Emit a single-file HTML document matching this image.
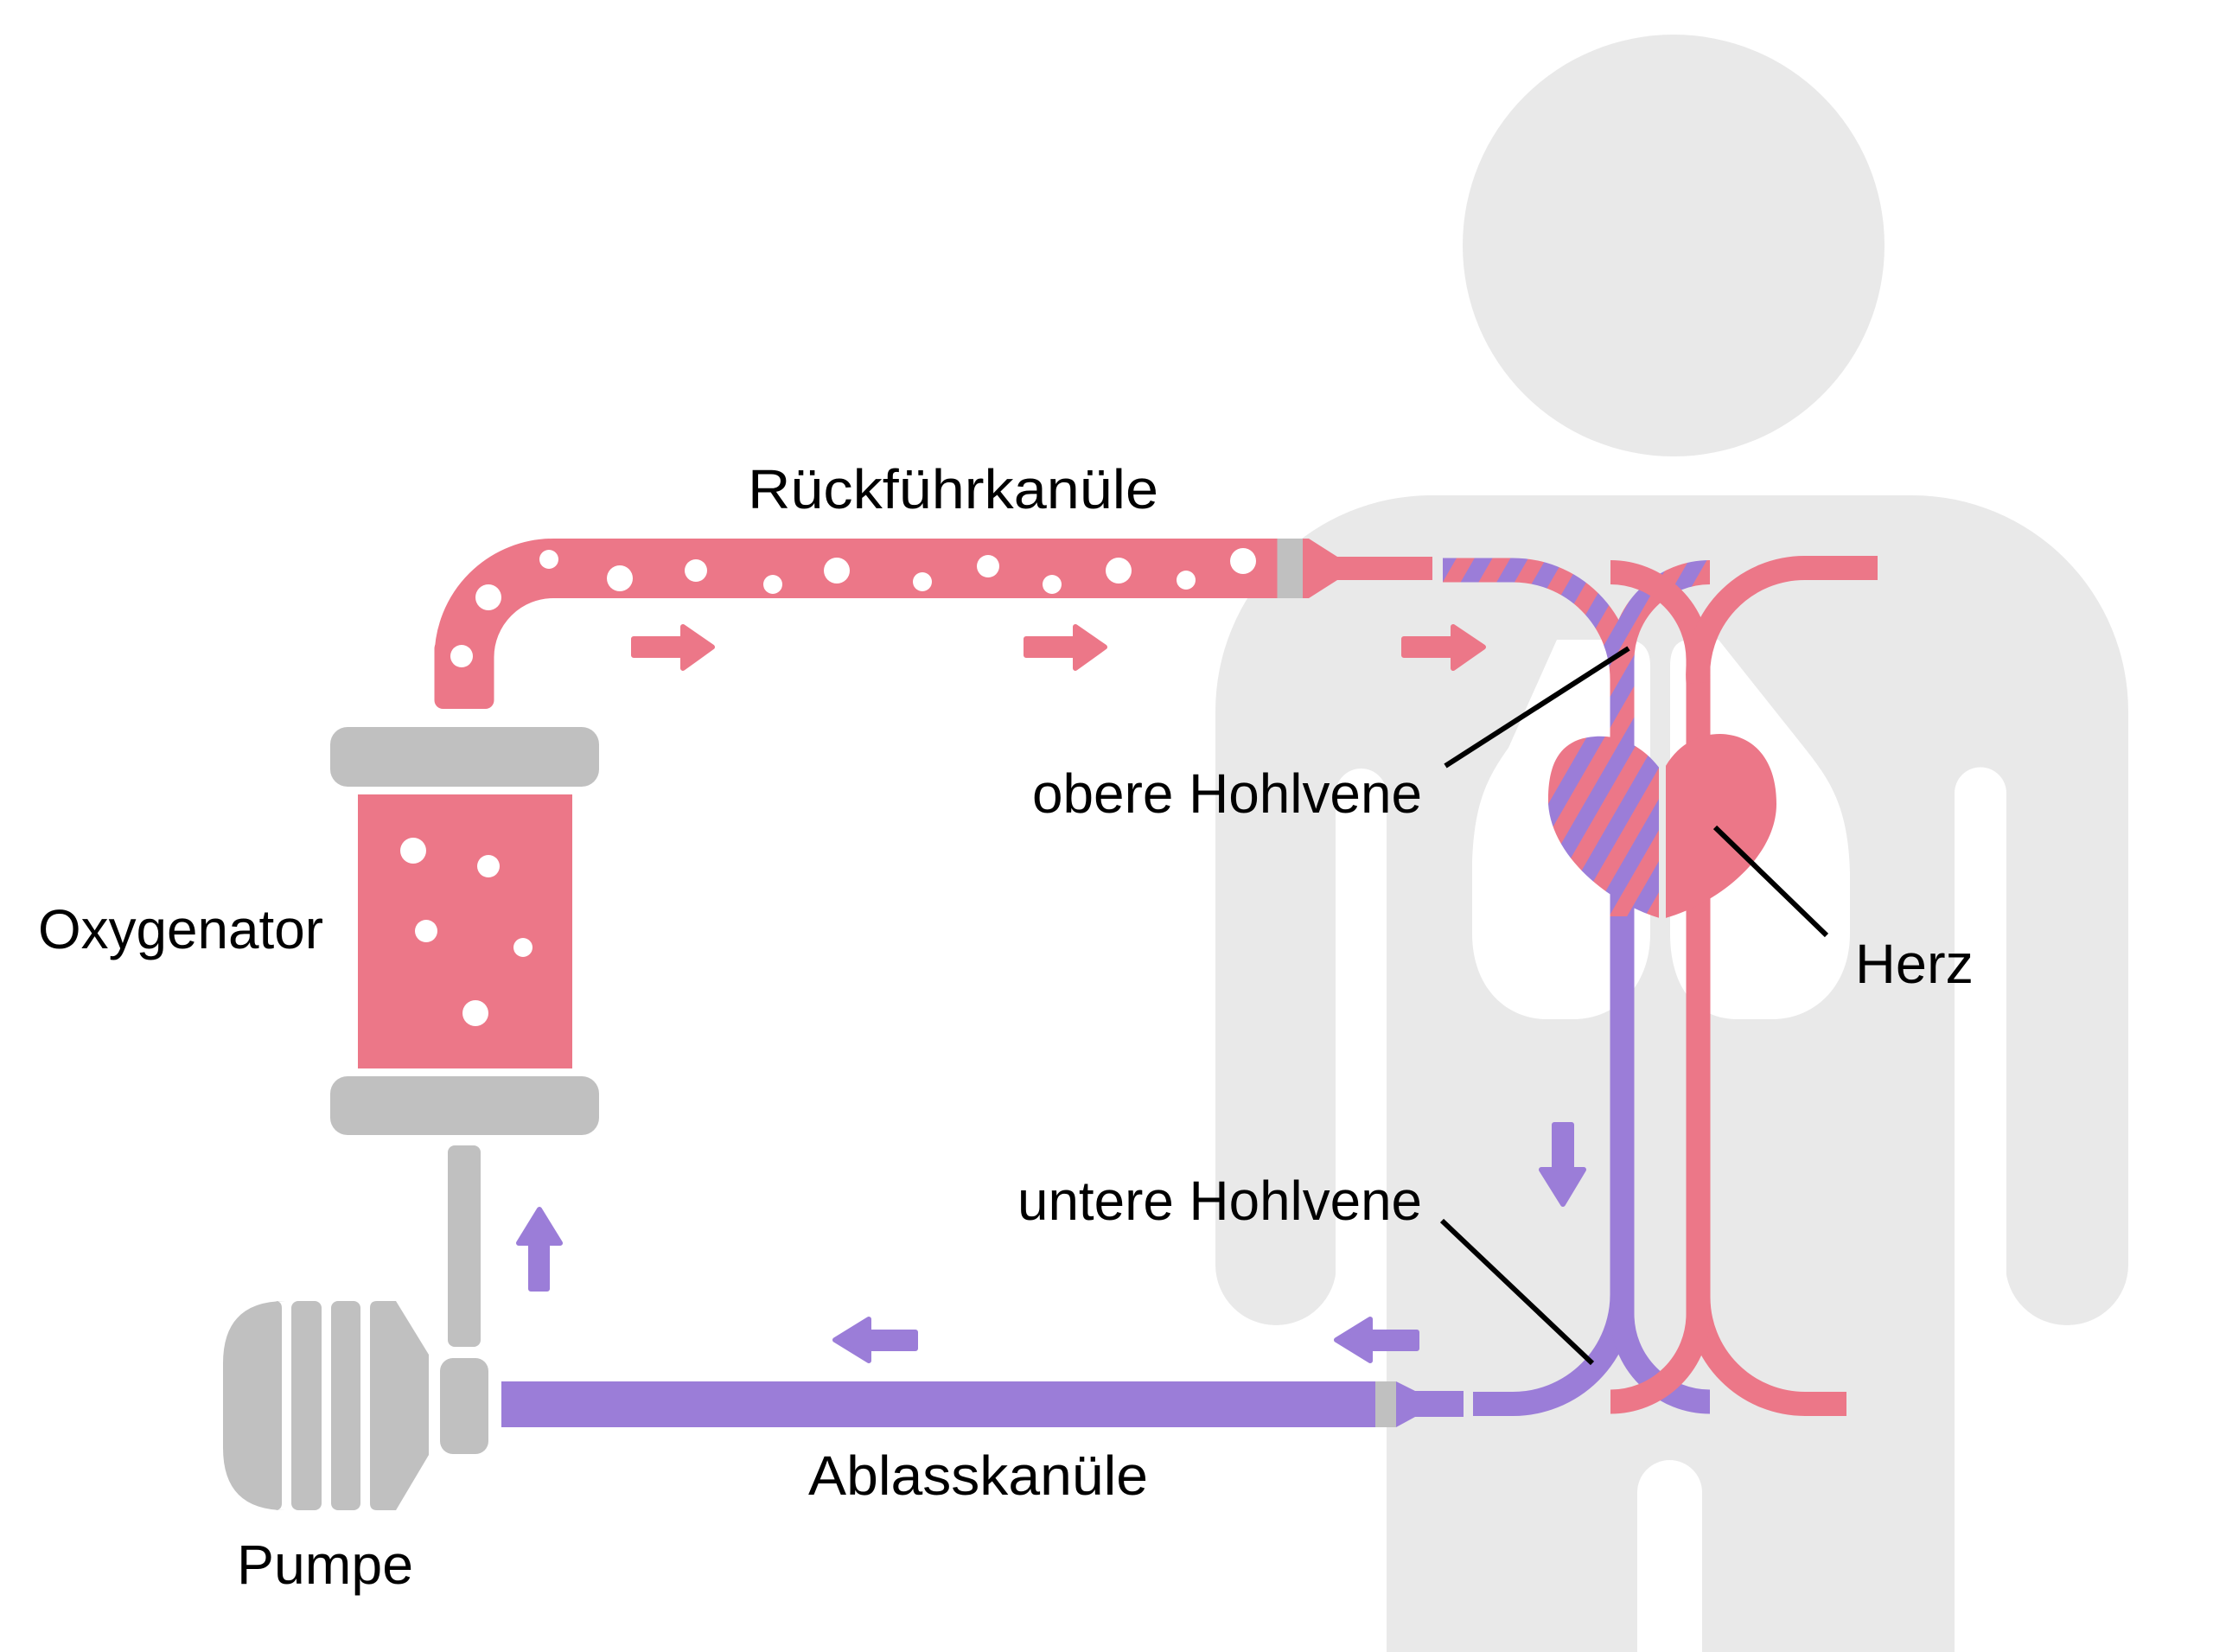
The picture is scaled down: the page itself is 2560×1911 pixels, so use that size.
<!DOCTYPE html>
<html><head><meta charset="utf-8"><style>
html,body{margin:0;padding:0;background:#fff;width:2560px;height:1911px;overflow:hidden;}
svg{display:block;}
text{font-family:"Liberation Sans",sans-serif;fill:#000;}
</style></head><body>
<svg width="2560" height="1911" viewBox="0 0 2560 1911" xmlns="http://www.w3.org/2000/svg">
<defs>
<pattern id="st" patternUnits="userSpaceOnUse" width="36" height="36" patternTransform="rotate(30)">
<rect x="0" y="0" width="36" height="36" fill="#ec7788"/>
<rect x="0" y="0" width="18" height="36" fill="#9b7dd8"/>
</pattern>
<clipPath id="hl"><rect x="1700" y="800" width="219" height="320"/></clipPath>
<clipPath id="hr"><rect x="1927" y="800" width="200" height="320"/></clipPath>
<clipPath id="upper"><rect x="1600" y="600" width="600" height="460"/></clipPath>
</defs>
<!-- body -->
<circle cx="1936" cy="284" r="244" fill="#e9e9e9"/>
<path d="M1406,823 A250,250 0 0 1 1656,573 H2212 A250,250 0 0 1 2462,823 V1463 A71,70 0 0 1 2320,1463 V1911 H1546 V1463 A70,70 0 0 1 1406,1463 Z" fill="#e9e9e9"/>
<path d="M1545,1911 V918.5 A29.5,29.5 0 0 1 1604,918.5 V1911 Z" fill="#fff"/>
<path d="M2261,1911 V917.5 A29.5,29.5 0 0 1 2321,917.5 V1911 Z" fill="#fff"/>
<path d="M1894,1911 V1726.5 A37.5,37.5 0 0 1 1969,1726.5 V1911 Z" fill="#fff"/>

<!-- lungs -->
<path d="M1801,740 L1880,740 Q1909,740 1909,770 L1909,1080 C1909,1140 1870,1179 1820,1179 L1790,1179 C1740,1179 1703,1140 1703,1080 L1703,1000 C1705,930 1720,900 1745,865 Z" fill="#fff"/>
<path d="M1988,740 L1955,740 Q1932,740 1932,770 L1932,1080 C1932,1140 1960,1179 2010,1179 L2050,1179 C2100,1179 2140,1140 2140,1080 L2140,1010 C2138,930 2115,900 2085,862 Z" fill="#fff"/>

<!-- top return tube -->
<path d="M537,775 V760 A103,103 0 0 1 640,657.5 H1478" fill="none" stroke="#ec7788" stroke-width="69"/>
<rect x="502.5" y="740" width="69" height="80" rx="10" fill="#ec7788"/>
<rect x="1477.5" y="623" width="30" height="69" fill="#c0c0c0"/>
<polygon points="1507,623 1514,623 1547,644 1657,644 1657,671 1547,671 1514,692 1507,692" fill="#ec7788"/>
<g fill="#fff">
<circle cx="534" cy="759" r="13"/><circle cx="565" cy="691" r="15"/><circle cx="635" cy="647" r="11"/>
<circle cx="717" cy="669" r="15"/><circle cx="805" cy="660" r="13"/><circle cx="894" cy="676" r="11"/>
<circle cx="968" cy="660" r="15"/><circle cx="1067" cy="673" r="11"/><circle cx="1143" cy="655" r="13"/>
<circle cx="1217" cy="676" r="11"/><circle cx="1294" cy="660" r="15"/><circle cx="1372" cy="671" r="11"/>
<circle cx="1438" cy="649" r="15"/>
</g>

<!-- oxygenator -->
<rect x="382" y="841" width="311" height="69" rx="20" fill="#c0c0c0"/>
<rect x="414" y="919" width="248" height="317" fill="#ec7788"/>
<rect x="382" y="1245" width="311" height="68" rx="20" fill="#c0c0c0"/>
<g fill="#fff">
<circle cx="478" cy="984" r="15"/><circle cx="565" cy="1002" r="13"/><circle cx="493" cy="1077" r="13"/>
<circle cx="605" cy="1096" r="11"/><circle cx="550" cy="1172" r="15"/>
</g>
<rect x="518" y="1325" width="38" height="233" rx="8" fill="#c0c0c0"/>

<!-- pump -->
<path d="M318,1505 Q326,1505 326,1513 V1739 Q326,1747 318,1747 H330 Q258,1747 258,1675 V1577 Q258,1505 330,1505 Z" fill="#c0c0c0"/>
<rect x="337" y="1505" width="35" height="242" rx="8" fill="#c0c0c0"/>
<rect x="383" y="1505" width="34" height="242" rx="8" fill="#c0c0c0"/>
<path d="M436,1505 H458 L496,1567 V1683 L458,1747 H436 Q428,1747 428,1739 V1513 Q428,1505 436,1505 Z" fill="#c0c0c0"/>
<rect x="509" y="1571" width="56" height="111" rx="15" fill="#c0c0c0"/>

<!-- bottom drain tube -->
<rect x="580" y="1598" width="1011" height="53" fill="#9b7dd8"/>
<rect x="1591" y="1598" width="24" height="53" fill="#c0c0c0"/>
<polygon points="1615,1598 1637,1609 1693,1609 1693,1639 1637,1639 1615,1651" fill="#9b7dd8"/>

<!-- vessels -->
<path d="M1704,1624 H1750 A126.5,126.5 0 0 0 1876.5,1497.5 V786" fill="none" stroke="#9b7dd8" stroke-width="28"/>
<path d="M1876.5,1490 V1520 A101.5,101.5 0 0 0 1978,1621.5" fill="none" stroke="#9b7dd8" stroke-width="28"/>
<g clip-path="url(#upper)">
<path d="M1669,659.5 H1750 A126.5,126.5 0 0 1 1876.5,786 V1100" fill="none" stroke="url(#st)" stroke-width="28"/>
</g>
<path d="M1978,662 A101.5,101.5 0 0 0 1876.5,763.5 V800" fill="none" stroke="url(#st)" stroke-width="28"/>
<path d="M1863,662 A101.5,101.5 0 0 1 1964.5,763.5 V1520" fill="none" stroke="#ec7788" stroke-width="28"/>
<path d="M1964.5,790 A123.5,123.5 0 0 1 2088,657 H2172" fill="none" stroke="#ec7788" stroke-width="28"/>
<path d="M1964.5,1490 V1500 A123.5,123.5 0 0 0 2088,1624 H2136" fill="none" stroke="#ec7788" stroke-width="28"/>
<path d="M1964.5,1500 V1520 A101.5,101.5 0 0 1 1863,1621.5" fill="none" stroke="#ec7788" stroke-width="28"/>

<!-- heart -->
<path d="M1923,893 C1900,860 1870,850 1845,852 C1800,855 1790,890 1791,930 C1795,990 1860,1045 1923,1063 C1990,1045 2055,990 2055,930 C2055,880 2030,850 1990,849 C1965,849 1940,860 1923,893 Z" fill="url(#st)" clip-path="url(#hl)"/>
<path d="M1923,893 C1900,860 1870,850 1845,852 C1800,855 1790,890 1791,930 C1795,990 1860,1045 1923,1063 C1990,1045 2055,990 2055,930 C2055,880 2030,850 1990,849 C1965,849 1940,860 1923,893 Z" fill="#ec7788" clip-path="url(#hr)"/>

<!-- arrows -->
<g fill="#ec7788" stroke="#ec7788" stroke-width="6" stroke-linejoin="round">
<path d="M733,739 H790 V725 L824,748.5 L790,773 V758 H733 Z"/>
<path d="M1187,739 H1244 V725 L1278,748.5 L1244,773 V758 H1187 Z"/>
<path d="M1624,739 H1681 V725 L1716,748.5 L1681,773 V758 H1624 Z"/>
</g>
<g fill="#9b7dd8" stroke="#9b7dd8" stroke-width="6" stroke-linejoin="round">
<path d="M1059,1541 H1005 V1526 L966,1550 L1005,1574 V1560 H1059 Z"/>
<path d="M1639,1541 H1585 V1526 L1546,1550 L1585,1574 V1560 H1639 Z"/>
<path d="M614,1491 V1438 H600 L624,1399 L648,1438 H633 V1491 Z"/>
<path d="M1798,1301 V1353 H1783 L1808,1393 L1832,1353 H1818 V1301 Z"/>
</g>

<!-- leader lines -->
<g stroke="#000" stroke-width="6">
<line x1="1884" y1="750" x2="1672" y2="886"/>
<line x1="1984" y1="957" x2="2113" y2="1082"/>
<line x1="1668" y1="1412" x2="1842" y2="1577"/>
</g>

<!-- labels -->
<g font-size="64">
<text x="865" y="588" textLength="475" lengthAdjust="spacingAndGlyphs">Rückführkanüle</text>
<text x="44" y="1097" textLength="330" lengthAdjust="spacingAndGlyphs">Oxygenator</text>
<text x="1194" y="940" textLength="451" lengthAdjust="spacingAndGlyphs">obere Hohlvene</text>
<text x="2146" y="1137" textLength="137" lengthAdjust="spacingAndGlyphs">Herz</text>
<text x="1177" y="1411" textLength="468" lengthAdjust="spacingAndGlyphs">untere Hohlvene</text>
<text x="935" y="1729" textLength="393" lengthAdjust="spacingAndGlyphs">Ablasskanüle</text>
<text x="274" y="1832" textLength="204" lengthAdjust="spacingAndGlyphs">Pumpe</text>
</g>
</svg>
</body></html>
